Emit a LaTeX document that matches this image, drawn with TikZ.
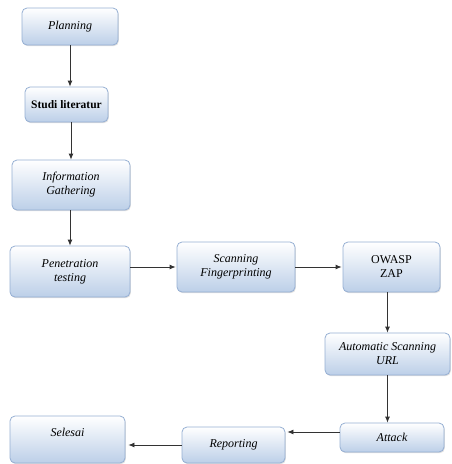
\documentclass[tikz,border=0pt]{standalone}
\usepackage{fontspec}
\setmainfont{Liberation Serif}
\usetikzlibrary{arrows.meta,shadows}
\definecolor{boxedge}{HTML}{95AFD3}
\definecolor{boxbot}{HTML}{BCCFE8}
\tikzset{
  box/.style={rectangle, rounded corners=5pt, draw=boxedge, line width=0.8pt,
    top color=white, bottom color=boxbot, align=center,
    font=\fontsize{12}{14}\selectfont\itshape, inner sep=2pt,
    drop shadow={shadow xshift=0.8pt, shadow yshift=-1.2pt, opacity=0.25}},
  plain/.style={font=\fontsize{12}{14}\selectfont\itshape},
  arr/.style={draw=black!80, line width=0.8pt, -{Latex[length=6pt,width=5pt]}}
}
\begin{document}
\begin{tikzpicture}[x=1pt,y=-1pt]
\useasboundingbox (0,0) rectangle (451,464);
\node[box, minimum width=96pt, minimum height=37pt] (plan) at (70,26.5) {Planning};
\node[box, minimum width=83pt, minimum height=35pt, font=\fontsize{11.5}{13}\selectfont\bfseries] (studi) at (66.5,104.5) {Studi literatur};
\node[box, minimum width=118pt, minimum height=50pt] (info) at (71,185) {Information\\Gathering};
\node[box, minimum width=120pt, minimum height=51pt] (pen) at (70,271.5) {Penetration\\testing};
\node[box, minimum width=118pt, minimum height=50pt] (scan) at (236,267) {Scanning\\Fingerprinting};
\node[box, minimum width=97pt, minimum height=50pt, font=\fontsize{12}{14}\selectfont] (owasp) at (391.5,267) {OWASP\\ZAP};
\node[box, minimum width=125pt, minimum height=42pt] (auto) at (387.5,354) {Automatic Scanning\\URL};
\node[box, minimum width=104pt, minimum height=29pt] (attack) at (392,437.5) {Attack};
\node[box, minimum width=103pt, minimum height=36pt] (rep) at (233.5,445) {Reporting};
\node[box, minimum width=115pt, minimum height=47pt] (sel) at (67.5,439.5) {};
\node[plain] (seltext) at (67.5,432) {Selesai};
\draw[arr] (plan.south) -- (plan.south |- studi.north);
\draw[arr] (info.north |- studi.south) -- (info.north);
\draw[arr] (pen.north |- info.south) -- (pen.north);
\draw[arr] (pen.east |- scan.center) -- ([xshift=-1pt]scan.west);
\draw[arr] (scan.east) -- ([xshift=-1pt]owasp.west);
\draw[arr] (auto.north |- owasp.south) -- (auto.north);
\draw[arr] (auto.south) -- (auto.south |- attack.north);
\draw[arr] ([yshift=5.5pt]attack.west) -- ([xshift=2pt,yshift=5.5pt]attack.west -| rep.east);
\draw[arr] (rep.west) -- ([xshift=3pt]rep.west -| sel.east);
\end{tikzpicture}
\end{document}
